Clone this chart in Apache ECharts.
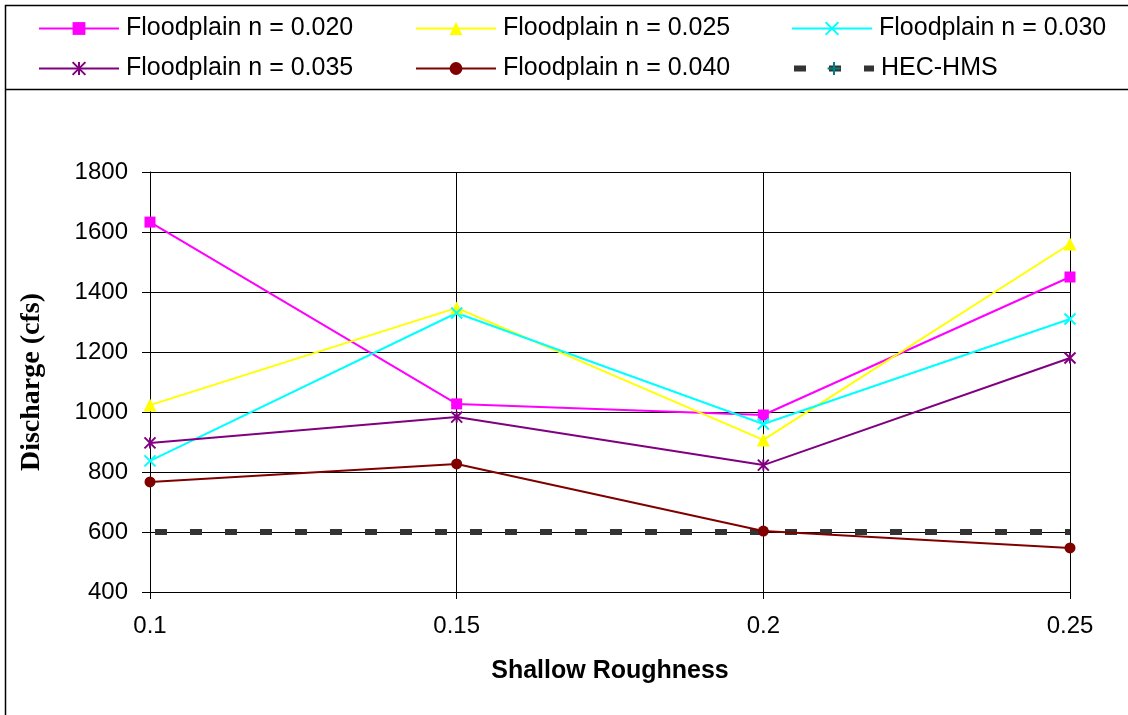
<!DOCTYPE html>
<html>
<head>
<meta charset="utf-8">
<script src="https://cdn.jsdelivr.net/npm/echarts@6/dist/echarts.min.js"></script>
<style>
  html, body { margin: 0; padding: 0; background: #fff; }
  #chart { width: 1128px; height: 715px; }
</style>
</head>
<body>
<div id="chart"></div>
<script>
// shallow roughness values on the x axis
const roughness = [0.1, 0.15, 0.2, 0.25]
// discharge (cfs) per floodplain n
const n020 = [1633, 1027, 990, 1450]
const n025 = [1023, 1347, 907, 1560]
const n030 = [837, 1330, 960, 1310]
const n035 = [897, 983, 823, 1180]
const n040 = [767, 827, 603, 547]
const hecHms = [600, 600, 600, 600]

const crossPath = 'path://M0,0L10,10M10,0L0,10'
const starPath = 'path://M5,0L5,10M0,0L10,10M10,0L0,10'
const plusPath = 'path://M5,0L5,10M0,5L10,5'

const font = 'Liberation Sans, Arial, sans-serif'

const dataList = [
  { name: 'Floodplain n = 0.020', values: n020, color: '#FF00FF', symbol: 'rect', size: 11 },
  { name: 'Floodplain n = 0.025', values: n025, color: '#FFFF00', symbol: 'triangle', size: 13 },
  { name: 'Floodplain n = 0.030', values: n030, color: '#00FFFF', symbol: crossPath, size: 11, stroke: true },
  { name: 'Floodplain n = 0.035', values: n035, color: '#800080', symbol: starPath, size: 11, stroke: true },
  { name: 'Floodplain n = 0.040', values: n040, color: '#800000', symbol: 'circle', size: 11 }
]

const series = dataList.map(item => ({
  name: item.name,
  type: 'line',
  data: roughness.map((x, i) => [x, item.values[i]]),
  symbol: item.symbol,
  symbolSize: item.size,
  lineStyle: { color: item.color, width: 2 },
  itemStyle: item.stroke
    ? { color: item.color, borderColor: item.color, borderWidth: 2 }
    : { color: item.color, borderWidth: 0 },
  z: 3
}))

series.push({
  name: 'HEC-HMS',
  type: 'line',
  data: roughness.map((x, i) => [x, hecHms[i]]),
  symbol: plusPath,
  symbolSize: 13,
  showSymbol: false,
  lineStyle: { color: '#333333', width: 6, type: [12, 23], dashOffset: 30 },
  itemStyle: { color: '#008080', borderColor: '#008080', borderWidth: 2 },
  z: 2
})

// one legend per entry, laid out as 3 columns x 2 rows
const legendLeft = [38, 415, 791]
const legendTop = [16, 56]
const legendOrder = [
  'Floodplain n = 0.020', 'Floodplain n = 0.025', 'Floodplain n = 0.030',
  'Floodplain n = 0.035', 'Floodplain n = 0.040', 'HEC-HMS'
]
const legends = legendOrder.map((name, i) => {
  const lg = {
    left: legendLeft[i % 3],
    top: legendTop[Math.floor(i / 3)],
    padding: 0,
    itemWidth: 80,
    itemHeight: 16,
    itemGap: 0,
    lineStyle: { width: 2 },
    textStyle: { fontFamily: font, fontSize: 25, color: '#000', padding: [0, 0, 0, 2] },
    data: [name]
  }
  if (name === 'HEC-HMS') {
    lg.lineStyle = { width: 6, type: [12, 23], dashOffset: 0 }
  }
  return lg
})

const chart = echarts.init(document.getElementById('chart'))
chart.setOption({
  animation: false,
  backgroundColor: '#fff',
  graphic: [
    {
      type: 'rect',
      shape: { x: 5.5, y: 5.5, width: 1200, height: 800 },
      style: { fill: 'none', stroke: '#000', lineWidth: 1.5 },
      silent: true
    },
    {
      type: 'line',
      shape: { x1: 5, y1: 89.5, x2: 1128, y2: 89.5 },
      style: { stroke: '#000', lineWidth: 1.5 },
      silent: true
    }
  ],
  legend: legends,
  grid: {
    left: 150,
    right: 58,
    top: 172,
    bottom: 123
  },
  xAxis: {
    type: 'value',
    min: 0.1,
    max: 0.25,
    interval: 0.05,
    name: 'Shallow Roughness',
    nameLocation: 'middle',
    nameGap: 67,
    nameTextStyle: { fontFamily: font, fontSize: 25, fontWeight: 'bold', color: '#000' },
    axisLine: { lineStyle: { color: '#000', width: 1 } },
    axisTick: { length: 7, lineStyle: { color: '#000' } },
    axisLabel: { fontFamily: font, fontSize: 24, color: '#000', margin: 22 },
    splitLine: { show: true, lineStyle: { color: '#000', width: 1 } }
  },
  yAxis: {
    type: 'value',
    min: 400,
    max: 1800,
    interval: 200,
    name: 'Discharge (cfs)',
    nameLocation: 'middle',
    nameGap: 104,
    nameTextStyle: { fontFamily: 'Liberation Serif, Times New Roman, serif', fontSize: 28, fontWeight: 'bold', color: '#000' },
    axisLine: { show: true, lineStyle: { color: '#000', width: 1 } },
    axisTick: { show: true, length: 8, lineStyle: { color: '#000' } },
    axisLabel: { fontFamily: font, fontSize: 24, color: '#000', margin: 22, formatter: v => String(v) },
    splitLine: { show: true, lineStyle: { color: '#000', width: 1 } }
  },
  series: series
})
</script>
</body>
</html>
